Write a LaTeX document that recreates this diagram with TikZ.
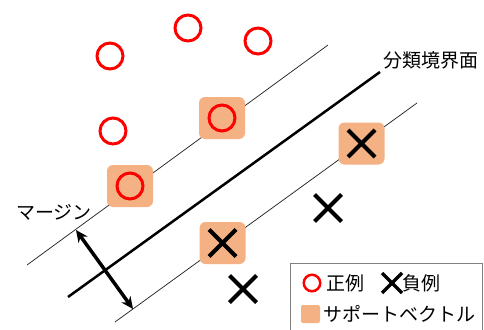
\documentclass[tikz,border=0pt]{standalone}
\usepackage{fontspec}
\setmainfont{Noto Sans CJK JP}
\usetikzlibrary{arrows.meta,shapes.misc}
\definecolor{svfill}{RGB}{244,177,131}
\definecolor{posred}{RGB}{255,0,0}
\definecolor{legendgray}{RGB}{128,128,128}
\begin{document}
\begin{tikzpicture}[x=1pt,y=-1pt,
  posex/.style={circle, draw=posred, line width=3pt, minimum size=26pt, inner sep=0pt},
  negex/.style={cross out, draw=black, line width=4pt, minimum size=23pt, inner sep=0pt},
  svbox/.style={rounded corners=6pt, fill=svfill, minimum width=46pt, minimum height=42pt, inner sep=0pt},
  marginline/.style={line width=0.75pt, black!85},
  boundary/.style={line width=2.5pt, black},
  lbl/.style={anchor=west, inner sep=0pt, font=\fontsize{19}{22}\selectfont},
  marginarrow/.style={line width=3.5pt, {Stealth[length=12pt,width=11pt]}-{Stealth[length=12pt,width=11pt]}}
]
\useasboundingbox (0,0) rectangle (484,329);
\clip (0,0) rectangle (484,329);

% lines
\coordinate (u1) at (27,265);  \coordinate (u2) at (328,45);
\coordinate (d1) at (68,297);  \coordinate (d2) at (380,72);
\coordinate (l1) at (115,322); \coordinate (l2) at (417,103);
\coordinate (m1) at (76,230);  \coordinate (m2) at (133,309);
\draw[marginline] (u1) -- (u2);
\draw[boundary] (d1) -- (d2);
\draw[marginline] (l1) -- (l2);

% support vector boxes
\node[svbox] (sv1) at (222,118) {};
\node[svbox] (sv2) at (130,186) {};
\node[svbox] (sv3) at (361.5,143.5) {};
\node[svbox] (sv4) at (222.5,243) {};

% positive examples
\node[posex] (p1) at (110,56) {};
\node[posex] (p2) at (188,28) {};
\node[posex] (p3) at (258,41) {};
\node[posex] (p4) at (113,131) {};
\node[posex] (p5) at (sv1) {};
\node[posex] (p6) at (sv2) {};

% negative examples
\node[negex] (n1) at (sv3) {};
\node[negex] (n2) at (sv4) {};
\node[negex] (n3) at (328,208) {};
\node[negex] (n4) at (243,289) {};

% margin arrow
\draw[marginarrow] (m1) -- (m2);

% labels
\node[lbl] (blabel) at (383,60) {分類境界面};
\node[lbl] (mlabel) at (16,212) {マージン};

% legend
\node[draw=legendgray, line width=1pt, anchor=north west, minimum width=192pt, minimum height=80pt, inner sep=0pt] (legend) at (290,263) {};
\node[circle, draw=posred, line width=2.5pt, minimum size=16.5pt, inner sep=0pt] (lpos) at (312,283) {};
\node[lbl] (lpostext) at (326,283) {正例};
\node[cross out, draw=black, line width=3.5pt, minimum size=16.5pt, inner sep=0pt] (lneg) at (392,283) {};
\node[lbl] (lnegtext) at (402,283) {負例};
\node[rounded corners=2pt, fill=svfill, minimum width=19pt, minimum height=18pt, inner sep=0pt] (lsv) at (310.5,314) {};
\node[lbl] (lsvtext) at (323,314) {サポートベクトル};
\end{tikzpicture}
\end{document}
